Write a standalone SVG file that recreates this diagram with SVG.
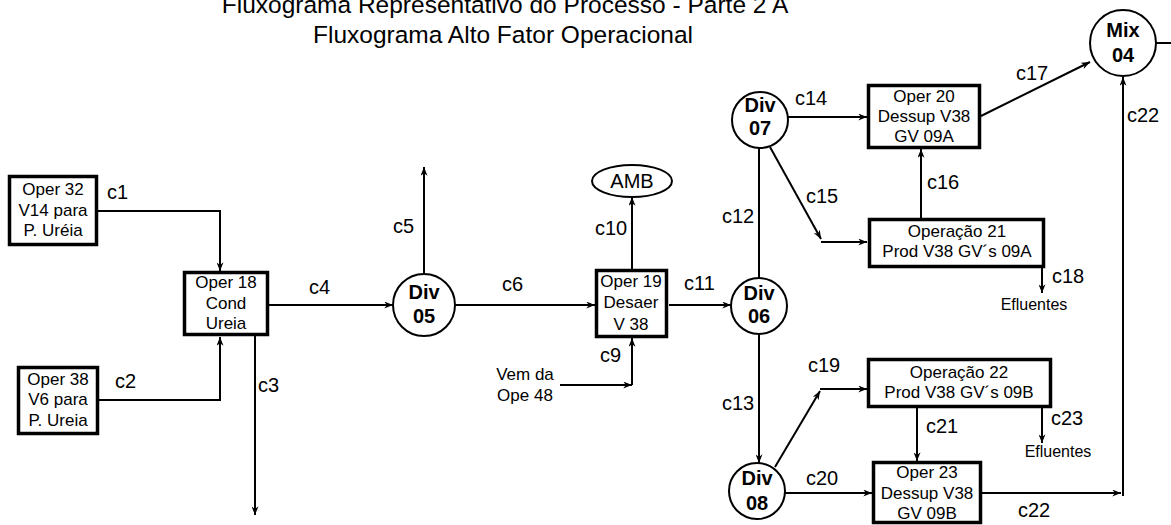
<svg xmlns="http://www.w3.org/2000/svg" width="1171" height="525" viewBox="0 0 1171 525">
<style>
text{font-family:"Liberation Sans",Arial,sans-serif;fill:#000}
.t{font-size:24.5px;text-anchor:middle}
.n{font-size:17px;text-anchor:middle}
.b{font-size:20px;font-weight:bold;text-anchor:middle}
.l{font-size:20px}
.e{font-size:16px;text-anchor:middle}
.box{fill:#fff;stroke:#000;stroke-width:3.5}
.cir{fill:#fff;stroke:#000;stroke-width:2}
.c{fill:none;stroke:#000;stroke-width:2}
.a{marker-end:url(#ah)}
</style>
<defs>
<marker id="ah" viewBox="0 0 10 8" refX="10" refY="4" markerWidth="9" markerHeight="7" markerUnits="userSpaceOnUse" orient="auto">
<path d="M0,0 L10,4 L0,8 L3,4 z" fill="#000"/>
</marker>
</defs>
<rect width="1171" height="525" fill="#fff"/>
<g id="title">
<text class="t" x="505" y="13">Fluxograma Representativo do Processo - Parte 2 A</text>
<text class="t" x="503" y="43">Fluxograma Alto Fator Operacional</text>
</g>
<g id="connectors">
<polyline class="c a" points="98,211 220,211 220,271"/>
<polyline class="c a" points="99,400 220,400 220,337"/>
<line class="c a" x1="255" y1="336" x2="255" y2="515"/>
<line class="c a" x1="269" y1="305" x2="393" y2="305"/>
<line class="c a" x1="424" y1="274" x2="424" y2="167"/>
<line class="c a" x1="455" y1="305" x2="595" y2="305"/>
<line class="c a" x1="560" y1="385" x2="632" y2="385"/>
<line class="c a" x1="632" y1="385" x2="632" y2="338"/>
<line class="c a" x1="632" y1="269" x2="632" y2="197"/>
<line class="c a" x1="669" y1="305" x2="731" y2="305"/>
<line class="c" x1="759" y1="148" x2="759" y2="278"/>
<line class="c a" x1="759" y1="334" x2="759" y2="463"/>
<line class="c a" x1="788" y1="117" x2="867" y2="117"/>
<line class="c a" x1="770" y1="147" x2="821" y2="239"/>
<line class="c a" x1="821" y1="242" x2="867" y2="242"/>
<line class="c a" x1="921" y1="218" x2="921" y2="149"/>
<line class="c a" x1="981" y1="116" x2="1090" y2="62"/>
<line class="c" x1="1156" y1="43" x2="1171" y2="43"/>
<line class="c a" x1="1042" y1="268" x2="1042" y2="293"/>
<line class="c a" x1="775" y1="467" x2="820" y2="391"/>
<line class="c a" x1="820" y1="389" x2="867" y2="389"/>
<line class="c a" x1="917" y1="408" x2="917" y2="461"/>
<line class="c a" x1="1042" y1="408" x2="1042" y2="443"/>
<line class="c a" x1="785" y1="493" x2="872" y2="493"/>
<line class="c a" x1="982" y1="493" x2="1121" y2="493"/>
<line class="c a" x1="1123" y1="496" x2="1123" y2="77"/>
<text class="l" x="107" y="199">c1</text>
<text class="l" x="115" y="388">c2</text>
<text class="l" x="258" y="392">c3</text>
<text class="l" x="309" y="294">c4</text>
<text class="l" x="393" y="233">c5</text>
<text class="l" x="502" y="291">c6</text>
<text class="l" x="600" y="362">c9</text>
<text class="l" x="595" y="235">c10</text>
<text class="l" x="684" y="290">c11</text>
<text class="l" x="722" y="223">c12</text>
<text class="l" x="722" y="410">c13</text>
<text class="l" x="795" y="105">c14</text>
<text class="l" x="806" y="203">c15</text>
<text class="l" x="927" y="189">c16</text>
<text class="l" x="1016" y="80">c17</text>
<text class="l" x="1052" y="283">c18</text>
<text class="l" x="808" y="372">c19</text>
<text class="l" x="806" y="485">c20</text>
<text class="l" x="926" y="433">c21</text>
<text class="l" x="1018" y="517">c22</text>
<text class="l" x="1127" y="122">c22</text>
<text class="l" x="1051" y="425">c23</text>
<text class="n" x="525" y="380">Vem da</text>
<text class="n" x="525" y="401">Ope 48</text>
<text class="e" x="1034" y="310">Efluentes</text>
<text class="e" x="1058" y="457">Efluentes</text>
</g>
<g id="oper32">
<rect class="box" x="9.5" y="176.5" width="87" height="68"/>
<text class="n" x="53" y="195">Oper 32</text>
<text class="n" x="53" y="216">V14 para</text>
<text class="n" x="53" y="236">P. Uréia</text>
</g>
<g id="oper38">
<rect class="box" x="18.5" y="367.5" width="79" height="66"/>
<text class="n" x="58" y="385">Oper 38</text>
<text class="n" x="58" y="405">V6 para</text>
<text class="n" x="58" y="426">P. Ureia</text>
</g>
<g id="oper18">
<rect class="box" x="184.5" y="272.5" width="83" height="62"/>
<text class="n" x="226" y="288">Oper 18</text>
<text class="n" x="226" y="309">Cond</text>
<text class="n" x="226" y="329">Ureia</text>
</g>
<g id="div05">
<circle class="cir" cx="424" cy="305" r="31"/>
<text class="b" x="424" y="299">Div</text>
<text class="b" x="424" y="323">05</text>
</g>
<g id="oper19">
<rect class="box" x="596.5" y="270.5" width="70" height="66"/>
<text class="n" x="631" y="287">Oper 19</text>
<text class="n" x="631" y="308">Desaer</text>
<text class="n" x="631" y="330">V 38</text>
</g>
<g id="amb">
<ellipse class="cir" cx="632" cy="181" rx="40" ry="16"/>
<text class="b" style="font-weight:normal" x="632" y="188">AMB</text>
</g>
<g id="div06">
<circle class="cir" cx="759" cy="306" r="28"/>
<text class="b" x="759" y="300">Div</text>
<text class="b" x="759" y="323">06</text>
</g>
<g id="div07">
<circle class="cir" cx="760" cy="120" r="28"/>
<text class="b" x="760" y="112">Div</text>
<text class="b" x="760" y="135">07</text>
</g>
<g id="div08">
<circle class="cir" cx="757" cy="491" r="28"/>
<text class="b" x="757" y="485">Div</text>
<text class="b" x="757" y="510">08</text>
</g>
<g id="oper20">
<rect class="box" x="868.5" y="85.5" width="111" height="62"/>
<text class="n" x="924" y="102">Oper 20</text>
<text class="n" x="924" y="122">Dessup V38</text>
<text class="n" x="924" y="142">GV 09A</text>
</g>
<g id="oper21">
<rect class="box" x="869.5" y="219.5" width="174" height="47"/>
<text class="n" x="957" y="237">Operação 21</text>
<text class="n" x="957" y="257">Prod V38 GV´s 09A</text>
</g>
<g id="oper22">
<rect class="box" x="868.5" y="359.5" width="182" height="47"/>
<text class="n" x="959" y="378">Operação 22</text>
<text class="n" x="959" y="398">Prod V38 GV´s 09B</text>
</g>
<g id="oper23">
<rect class="box" x="873.5" y="462.5" width="107" height="60"/>
<text class="n" x="927" y="478">Oper 23</text>
<text class="n" x="927" y="499">Dessup V38</text>
<text class="n" x="927" y="519">GV 09B</text>
</g>
<g id="mix04">
<circle class="cir" cx="1123" cy="43" r="33"/>
<text class="b" x="1123" y="37">Mix</text>
<text class="b" x="1123" y="62">04</text>
</g>
</svg>
